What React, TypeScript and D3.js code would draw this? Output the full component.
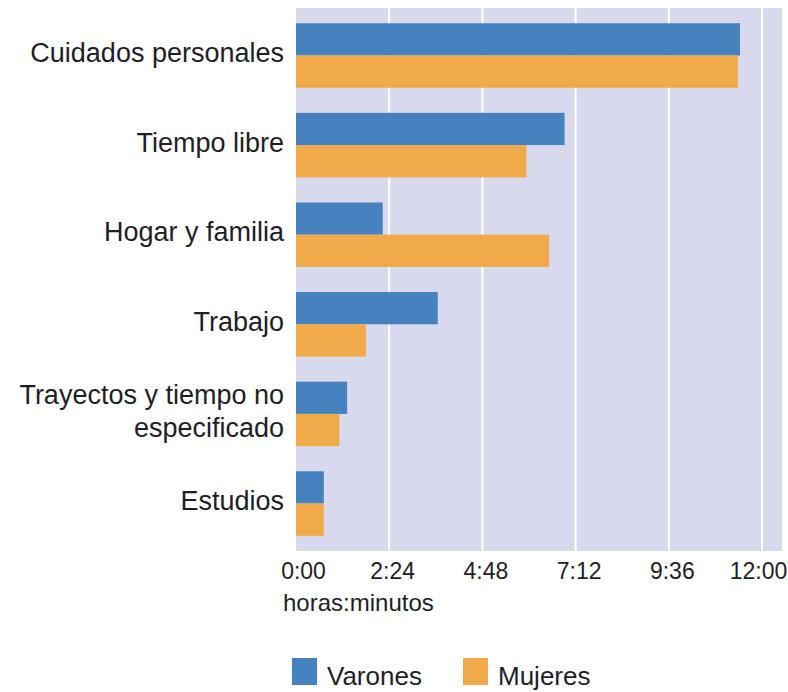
import React, { useRef, useEffect } from 'react';
import { select, scaleLinear, scaleBand, axisBottom } from 'd3';

// minutes per day
const categories = ['Cuidados personales', 'Tiempo libre', 'Hogar y familia', 'Trabajo', 'Trayectos y tiempo no\nespecificado', 'Estudios'];
const varones = [686, 415, 134, 219, 79, 43];
const mujeres = [683, 356, 391, 108, 67, 43];
const series = ['Varones', 'Mujeres'];
const tickValues = [0, 144, 288, 432, 576, 720];
const axisTitle = 'horas:minutos';

const BLUE = '#4682bd';
const ORANGE = '#f0aa4a';
const BG = '#d9d9ed';
const TEXT = '#1e1e28';
const FONT = '"Liberation Sans", Arial, sans-serif';

function fmt(m: number) {
  const h = Math.floor(m / 60);
  const mm = m % 60;
  return `${h}:${mm < 10 ? '0' : ''}${mm}`;
}

function App() {
  const ref = useRef<SVGSVGElement>(null);

  useEffect(() => {
    const svg = select(ref.current);
    svg.selectAll('*').remove();

    // dimensions
    const left = 296, right = 782, top = 8, bottom = 551;

    const x = scaleLinear().domain([0, 720]).range([left, 762]);
    const y = scaleBand<number>()
      .domain(categories.map((_, i) => i))
      .range([top, bottom])
      .paddingInner(0.28)
      .paddingOuter(0.17);

    // background
    svg.append('rect')
      .attr('x', left).attr('y', top)
      .attr('width', right - left).attr('height', bottom - top)
      .attr('fill', BG);

    // gridlines
    svg.append('g').selectAll('line')
      .data(tickValues.slice(1))
      .join('line')
      .attr('x1', d => x(d)).attr('x2', d => x(d))
      .attr('y1', top).attr('y2', bottom)
      .attr('stroke', '#fff').attr('stroke-width', 2);

    const half = y.bandwidth() / 2;
    const values = [varones, mujeres];
    const colors = [BLUE, ORANGE];

    values.forEach((vals, s) => {
      svg.append('g').selectAll('rect')
        .data(vals)
        .join('rect')
        .attr('x', x(0))
        .attr('y', (_, i) => (y(i) as number) + s * half)
        .attr('width', d => x(d) - x(0))
        .attr('height', half)
        .attr('fill', colors[s]);
    });

    // category labels
    const labels = svg.append('g')
      .attr('font-family', FONT)
      .attr('font-size', 27)
      .attr('fill', TEXT)
      .attr('text-anchor', 'end');

    categories.forEach((c, i) => {
      const lines = c.split('\n');
      const cy = (y(i) as number) + y.bandwidth() / 2 - 3;
      const lh = 33;
      const t = labels.append('text')
        .attr('transform', `translate(284, ${cy - ((lines.length - 1) * lh) / 2})`);
      lines.forEach((l, k) => {
        t.append('tspan').attr('x', 0).attr('y', k * lh).attr('dy', '0.35em').text(l);
      });
    });

    // x axis
    const ax = svg.append('g')
      .attr('transform', `translate(0, ${bottom})`)
      .call(axisBottom(x).tickValues(tickValues).tickFormat(d => fmt(+d)).tickSize(0).tickPadding(0));
    ax.select('.domain').remove();
    ax.selectAll('.tick text')
      .attr('font-family', FONT)
      .attr('font-size', 23)
      .attr('fill', TEXT)
      .attr('dy', null)
      .attr('y', 28)
      .attr('x', (_, i) => (i === 0 ? 7 : i === tickValues.length - 1 ? -4 : 3));

    svg.append('text')
      .attr('x', 283).attr('y', 611)
      .attr('font-family', FONT).attr('font-size', 24)
      .attr('fill', TEXT)
      .text(axisTitle);

    // legend
    const lx = [292, 463];
    series.forEach((name, s) => {
      svg.append('rect')
        .attr('x', lx[s]).attr('y', 658)
        .attr('width', 25).attr('height', 27)
        .attr('fill', colors[s]);
      svg.append('text')
        .attr('x', lx[s] + 35).attr('y', 685)
        .attr('font-family', FONT).attr('font-size', 26)
        .attr('fill', TEXT)
        .text(name);
    });
  }, []);

  return (
    <svg ref={ref} width={788} height={692}
      style={{ position: 'absolute', left: 0, top: 0, background: '#fff' }} />
  );
}

export default App;
